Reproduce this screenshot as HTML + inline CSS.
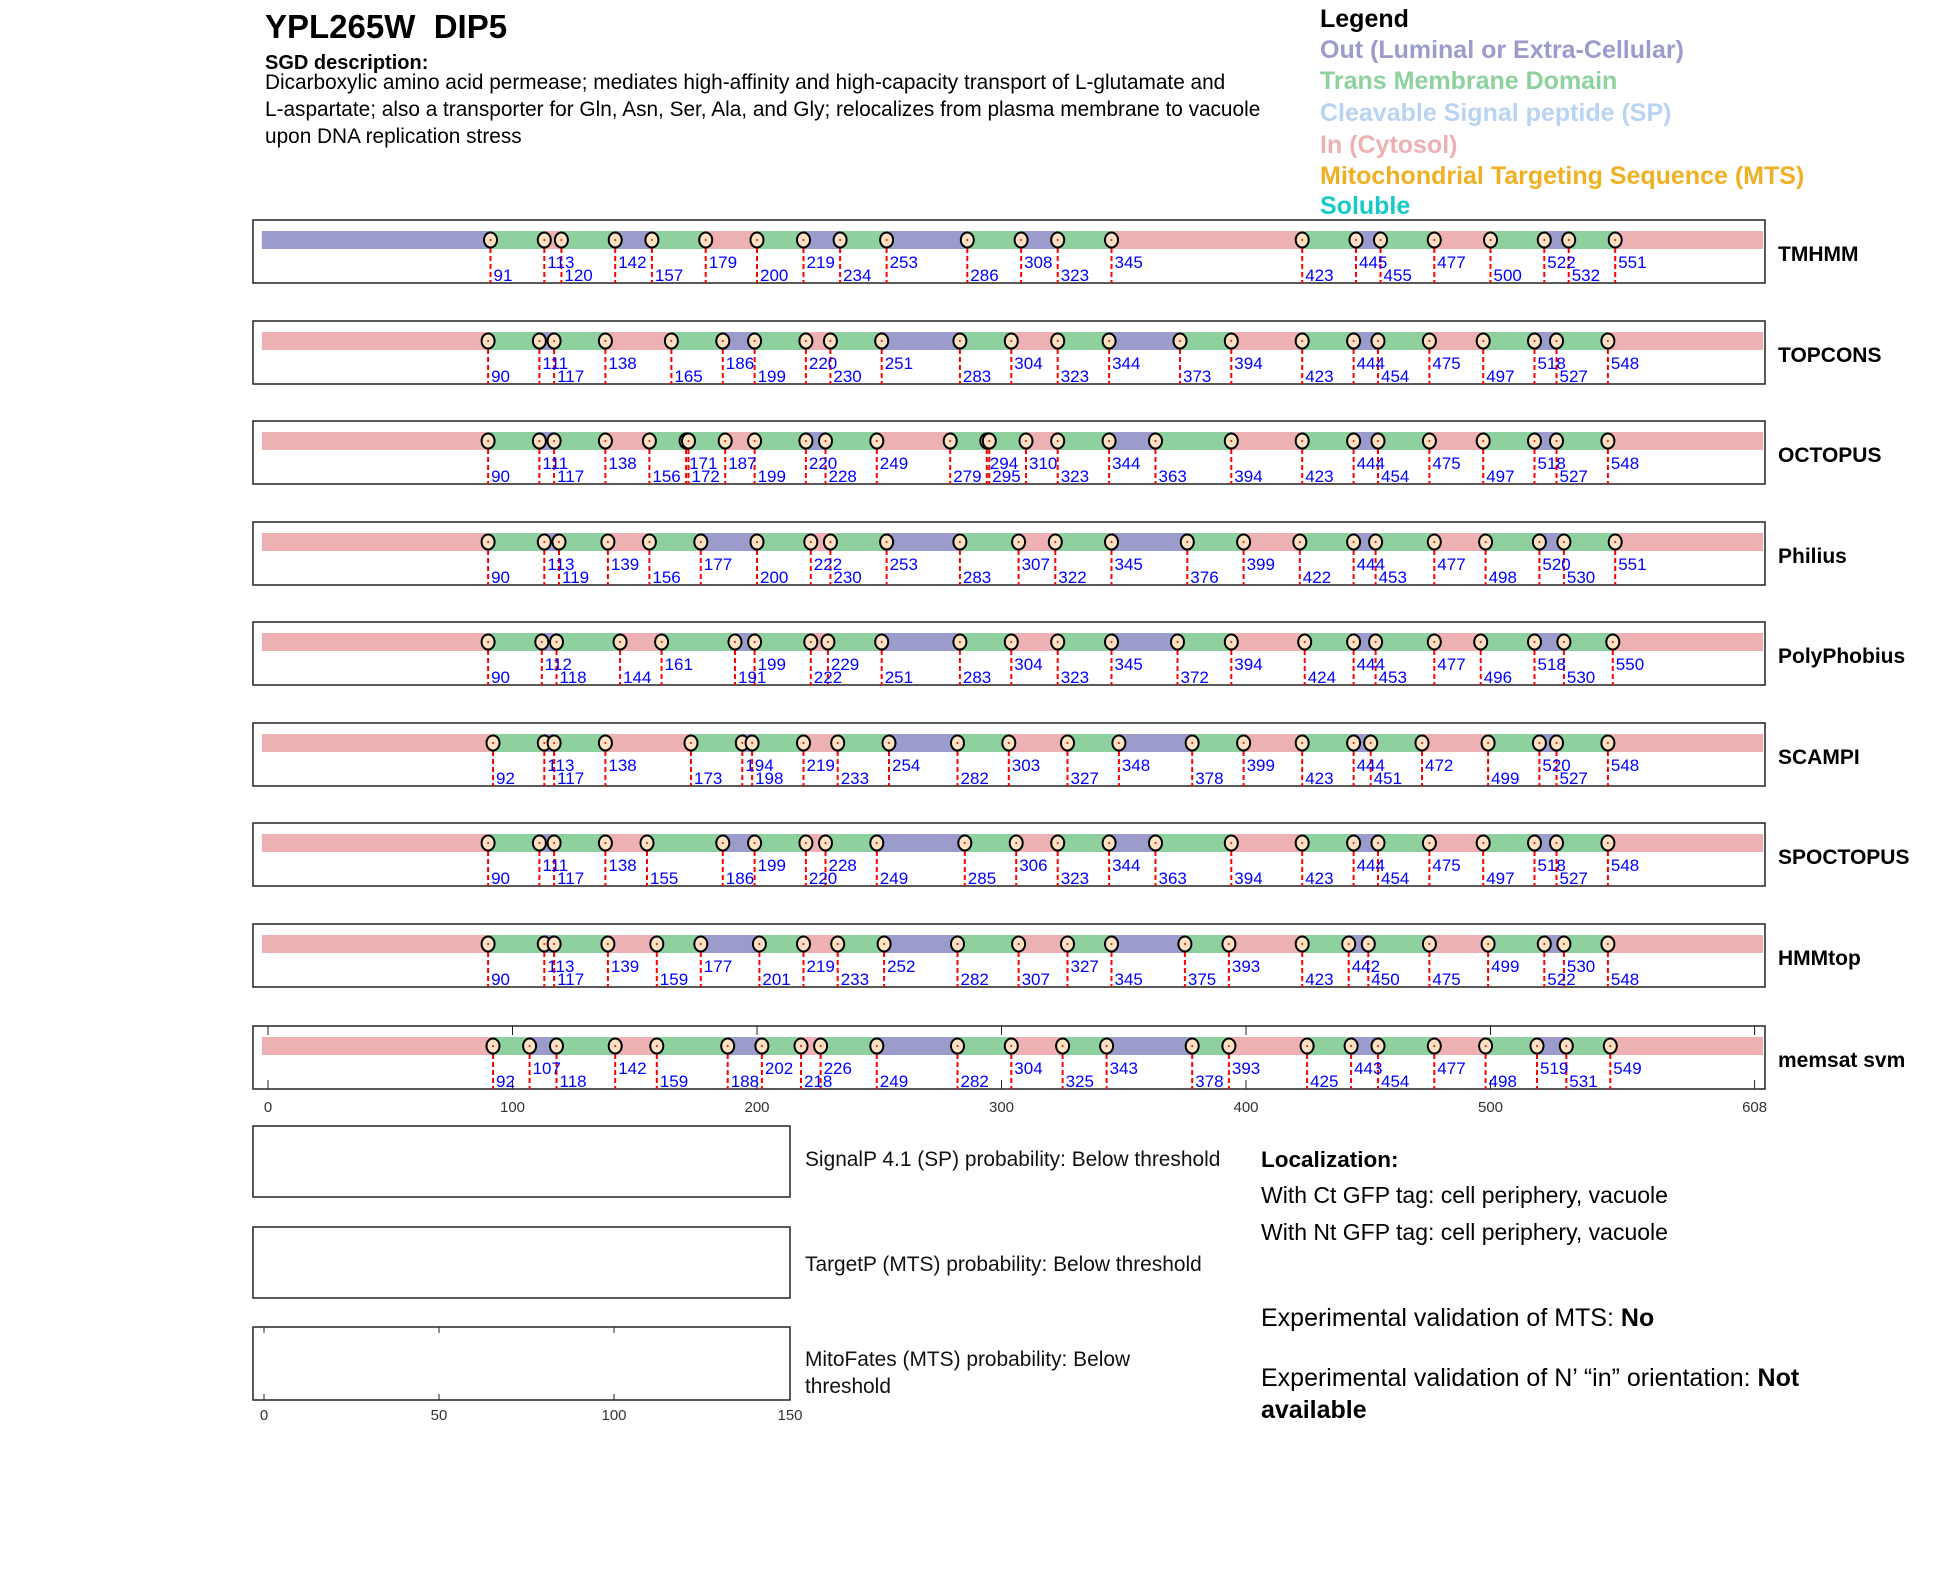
<!DOCTYPE html>
<html><head><meta charset="utf-8"><style>
html,body{margin:0;padding:0;background:#fff}
svg{display:block}
text{font-family:"Liberation Sans",Arial,sans-serif}
.n{font-size:17px;fill:#0000ff}
.r{font-size:21px;font-weight:bold;fill:#000}
.t{font-size:15px;fill:#333;text-anchor:middle}
</style></head><body>
<svg width="1950" height="1573" viewBox="0 0 1950 1573" xmlns="http://www.w3.org/2000/svg">
<defs>
<g id="m"><line x1="0" y1="20" x2="0" y2="63" stroke="#ff0000" stroke-width="2" stroke-dasharray="5,3"/><ellipse cx="0" cy="20" rx="6.5" ry="7.5" fill="#fde3c3" stroke="#000" stroke-width="2"/><circle cx="0" cy="20" r="1" fill="#ff0000"/></g>
</defs>
<text x="265" y="38" style="font-size:33px;font-weight:bold">YPL265W&#160;&#160;DIP5</text>
<text x="265" y="69" style="font-size:20px;font-weight:bold">SGD description:</text>
<text x="265" y="89" style="font-size:20.8px">Dicarboxylic amino acid permease; mediates high-affinity and high-capacity transport of L-glutamate and</text>
<text x="265" y="116" style="font-size:20.8px">L-aspartate; also a transporter for Gln, Asn, Ser, Ala, and Gly; relocalizes from plasma membrane to vacuole</text>
<text x="265" y="143" style="font-size:20.8px">upon DNA replication stress</text>
<g style="font-size:25px;font-weight:bold">
<text x="1320" y="27" fill="#000">Legend</text>
<text x="1320" y="58" fill="#9b9bcc">Out (Luminal or Extra-Cellular)</text>
<text x="1320" y="89" fill="#8dd19c">Trans Membrane Domain</text>
<text x="1320" y="121" fill="#b9d3f2">Cleavable Signal peptide (SP)</text>
<text x="1320" y="153" fill="#eeb1b3">In (Cytosol)</text>
<text x="1320" y="184" fill="#f0b023">Mitochondrial Targeting Sequence (MTS)</text>
<text x="1320" y="214" fill="#17c9c9">Soluble</text>
</g>

<!-- Row 0 TMHMM -->
<g transform="translate(0,220)">
<rect x="253" y="0" width="1512" height="63" fill="#fff" stroke="#222" stroke-width="1.5"/>
<g transform="translate(268,0) scale(2.445,1)">
<rect x="-2.5" y="11" width="614" height="18" fill="#eeb1b3"/>
<g fill="#9b9bcc"><rect x="-2.5" y="11" width="93.5" height="18"/><rect x="142" y="11" width="15" height="18"/><rect x="219" y="11" width="15" height="18"/><rect x="253" y="11" width="33" height="18"/><rect x="308" y="11" width="15" height="18"/><rect x="445" y="11" width="10" height="18"/><rect x="522" y="11" width="10" height="18"/></g>
<g fill="#8fd19e"><rect x="91" y="11" width="22" height="18"/><rect x="120" y="11" width="22" height="18"/><rect x="157" y="11" width="22" height="18"/><rect x="200" y="11" width="19" height="18"/><rect x="234" y="11" width="19" height="18"/><rect x="286" y="11" width="22" height="18"/><rect x="323" y="11" width="22" height="18"/><rect x="423" y="11" width="22" height="18"/><rect x="455" y="11" width="22" height="18"/><rect x="500" y="11" width="22" height="18"/><rect x="532" y="11" width="19" height="18"/></g>
</g>
<use href="#m" x="490.5"/><use href="#m" x="544.3"/><use href="#m" x="561.4"/><use href="#m" x="615.2"/><use href="#m" x="651.9"/><use href="#m" x="705.7"/><use href="#m" x="757"/><use href="#m" x="803.5"/><use href="#m" x="840.1"/><use href="#m" x="886.6"/><use href="#m" x="967.3"/><use href="#m" x="1021.1"/><use href="#m" x="1057.7"/><use href="#m" x="1111.5"/><use href="#m" x="1302.2"/><use href="#m" x="1356"/><use href="#m" x="1380.5"/><use href="#m" x="1434.3"/><use href="#m" x="1490.5"/><use href="#m" x="1544.3"/><use href="#m" x="1568.7"/><use href="#m" x="1615.2"/>
<text class="n" x="493.5" y="61">91</text><text class="n" x="547.3" y="48">113</text><text class="n" x="564.4" y="61">120</text><text class="n" x="618.2" y="48">142</text><text class="n" x="654.9" y="61">157</text><text class="n" x="708.7" y="48">179</text><text class="n" x="760" y="61">200</text><text class="n" x="806.5" y="48">219</text><text class="n" x="843.1" y="61">234</text><text class="n" x="889.6" y="48">253</text><text class="n" x="970.3" y="61">286</text><text class="n" x="1024.1" y="48">308</text><text class="n" x="1060.7" y="61">323</text><text class="n" x="1114.5" y="48">345</text><text class="n" x="1305.2" y="61">423</text><text class="n" x="1359" y="48">445</text><text class="n" x="1383.5" y="61">455</text><text class="n" x="1437.3" y="48">477</text><text class="n" x="1493.5" y="61">500</text><text class="n" x="1547.3" y="48">522</text><text class="n" x="1571.7" y="61">532</text><text class="n" x="1618.2" y="48">551</text>
<text class="r" x="1778" y="41">TMHMM</text>
</g>

<!-- Row 1 TOPCONS -->
<g transform="translate(0,321)">
<rect x="253" y="0" width="1512" height="63" fill="#fff" stroke="#222" stroke-width="1.5"/>
<g transform="translate(268,0) scale(2.445,1)">
<rect x="-2.5" y="11" width="614" height="18" fill="#eeb1b3"/>
<g fill="#9b9bcc"><rect x="111" y="11" width="6" height="18"/><rect x="186" y="11" width="13" height="18"/><rect x="251" y="11" width="32" height="18"/><rect x="344" y="11" width="29" height="18"/><rect x="444" y="11" width="10" height="18"/><rect x="518" y="11" width="9" height="18"/></g>
<g fill="#8fd19e"><rect x="90" y="11" width="21" height="18"/><rect x="117" y="11" width="21" height="18"/><rect x="165" y="11" width="21" height="18"/><rect x="199" y="11" width="21" height="18"/><rect x="230" y="11" width="21" height="18"/><rect x="283" y="11" width="21" height="18"/><rect x="323" y="11" width="21" height="18"/><rect x="373" y="11" width="21" height="18"/><rect x="423" y="11" width="21" height="18"/><rect x="454" y="11" width="21" height="18"/><rect x="497" y="11" width="21" height="18"/><rect x="527" y="11" width="21" height="18"/></g>
</g>
<use href="#m" x="488.1"/><use href="#m" x="539.4"/><use href="#m" x="554.1"/><use href="#m" x="605.4"/><use href="#m" x="671.4"/><use href="#m" x="722.8"/><use href="#m" x="754.6"/><use href="#m" x="805.9"/><use href="#m" x="830.4"/><use href="#m" x="881.7"/><use href="#m" x="959.9"/><use href="#m" x="1011.3"/><use href="#m" x="1057.7"/><use href="#m" x="1109.1"/><use href="#m" x="1180"/><use href="#m" x="1231.3"/><use href="#m" x="1302.2"/><use href="#m" x="1353.6"/><use href="#m" x="1378"/><use href="#m" x="1429.4"/><use href="#m" x="1483.2"/><use href="#m" x="1534.5"/><use href="#m" x="1556.5"/><use href="#m" x="1607.9"/>
<text class="n" x="491.1" y="61">90</text><text class="n" x="542.4" y="48">111</text><text class="n" x="557.1" y="61">117</text><text class="n" x="608.4" y="48">138</text><text class="n" x="674.4" y="61">165</text><text class="n" x="725.8" y="48">186</text><text class="n" x="757.6" y="61">199</text><text class="n" x="808.9" y="48">220</text><text class="n" x="833.4" y="61">230</text><text class="n" x="884.7" y="48">251</text><text class="n" x="962.9" y="61">283</text><text class="n" x="1014.3" y="48">304</text><text class="n" x="1060.7" y="61">323</text><text class="n" x="1112.1" y="48">344</text><text class="n" x="1183" y="61">373</text><text class="n" x="1234.3" y="48">394</text><text class="n" x="1305.2" y="61">423</text><text class="n" x="1356.6" y="48">444</text><text class="n" x="1381" y="61">454</text><text class="n" x="1432.4" y="48">475</text><text class="n" x="1486.2" y="61">497</text><text class="n" x="1537.5" y="48">518</text><text class="n" x="1559.5" y="61">527</text><text class="n" x="1610.9" y="48">548</text>
<text class="r" x="1778" y="41">TOPCONS</text>
</g>

<!-- Row 2 OCTOPUS -->
<g transform="translate(0,421)">
<rect x="253" y="0" width="1512" height="63" fill="#fff" stroke="#222" stroke-width="1.5"/>
<g transform="translate(268,0) scale(2.445,1)">
<rect x="-2.5" y="11" width="614" height="18" fill="#eeb1b3"/>
<g fill="#9b9bcc"><rect x="111" y="11" width="6" height="18"/><rect x="171" y="11" width="1" height="18"/><rect x="220" y="11" width="8" height="18"/><rect x="294" y="11" width="1" height="18"/><rect x="344" y="11" width="19" height="18"/><rect x="444" y="11" width="10" height="18"/><rect x="518" y="11" width="9" height="18"/></g>
<g fill="#8fd19e"><rect x="90" y="11" width="21" height="18"/><rect x="117" y="11" width="21" height="18"/><rect x="156" y="11" width="15" height="18"/><rect x="172" y="11" width="15" height="18"/><rect x="199" y="11" width="21" height="18"/><rect x="228" y="11" width="21" height="18"/><rect x="279" y="11" width="15" height="18"/><rect x="295" y="11" width="15" height="18"/><rect x="323" y="11" width="21" height="18"/><rect x="363" y="11" width="31" height="18"/><rect x="423" y="11" width="21" height="18"/><rect x="454" y="11" width="21" height="18"/><rect x="497" y="11" width="21" height="18"/><rect x="527" y="11" width="21" height="18"/></g>
</g>
<use href="#m" x="488.1"/><use href="#m" x="539.4"/><use href="#m" x="554.1"/><use href="#m" x="605.4"/><use href="#m" x="649.4"/><use href="#m" x="686.1"/><use href="#m" x="688.5"/><use href="#m" x="725.2"/><use href="#m" x="754.6"/><use href="#m" x="805.9"/><use href="#m" x="825.5"/><use href="#m" x="876.8"/><use href="#m" x="950.2"/><use href="#m" x="986.8"/><use href="#m" x="989.3"/><use href="#m" x="1026"/><use href="#m" x="1057.7"/><use href="#m" x="1109.1"/><use href="#m" x="1155.5"/><use href="#m" x="1231.3"/><use href="#m" x="1302.2"/><use href="#m" x="1353.6"/><use href="#m" x="1378"/><use href="#m" x="1429.4"/><use href="#m" x="1483.2"/><use href="#m" x="1534.5"/><use href="#m" x="1556.5"/><use href="#m" x="1607.9"/>
<text class="n" x="491.1" y="61">90</text><text class="n" x="542.4" y="48">111</text><text class="n" x="557.1" y="61">117</text><text class="n" x="608.4" y="48">138</text><text class="n" x="652.4" y="61">156</text><text class="n" x="689.1" y="48">171</text><text class="n" x="691.5" y="61">172</text><text class="n" x="728.2" y="48">187</text><text class="n" x="757.6" y="61">199</text><text class="n" x="808.9" y="48">220</text><text class="n" x="828.5" y="61">228</text><text class="n" x="879.8" y="48">249</text><text class="n" x="953.2" y="61">279</text><text class="n" x="989.8" y="48">294</text><text class="n" x="992.3" y="61">295</text><text class="n" x="1029" y="48">310</text><text class="n" x="1060.7" y="61">323</text><text class="n" x="1112.1" y="48">344</text><text class="n" x="1158.5" y="61">363</text><text class="n" x="1234.3" y="61">394</text><text class="n" x="1305.2" y="61">423</text><text class="n" x="1356.6" y="48">444</text><text class="n" x="1381" y="61">454</text><text class="n" x="1432.4" y="48">475</text><text class="n" x="1486.2" y="61">497</text><text class="n" x="1537.5" y="48">518</text><text class="n" x="1559.5" y="61">527</text><text class="n" x="1610.9" y="48">548</text>
<text class="r" x="1778" y="41">OCTOPUS</text>
</g>

<!-- Row 3 Philius -->
<g transform="translate(0,522)">
<rect x="253" y="0" width="1512" height="63" fill="#fff" stroke="#222" stroke-width="1.5"/>
<g transform="translate(268,0) scale(2.445,1)">
<rect x="-2.5" y="11" width="614" height="18" fill="#eeb1b3"/>
<g fill="#9b9bcc"><rect x="113" y="11" width="6" height="18"/><rect x="177" y="11" width="23" height="18"/><rect x="253" y="11" width="30" height="18"/><rect x="345" y="11" width="31" height="18"/><rect x="444" y="11" width="9" height="18"/><rect x="520" y="11" width="10" height="18"/></g>
<g fill="#8fd19e"><rect x="90" y="11" width="23" height="18"/><rect x="119" y="11" width="20" height="18"/><rect x="156" y="11" width="21" height="18"/><rect x="200" y="11" width="22" height="18"/><rect x="230" y="11" width="23" height="18"/><rect x="283" y="11" width="24" height="18"/><rect x="322" y="11" width="23" height="18"/><rect x="376" y="11" width="23" height="18"/><rect x="422" y="11" width="22" height="18"/><rect x="453" y="11" width="24" height="18"/><rect x="498" y="11" width="22" height="18"/><rect x="530" y="11" width="21" height="18"/></g>
</g>
<use href="#m" x="488.1"/><use href="#m" x="544.3"/><use href="#m" x="559"/><use href="#m" x="607.9"/><use href="#m" x="649.4"/><use href="#m" x="700.8"/><use href="#m" x="757"/><use href="#m" x="810.8"/><use href="#m" x="830.4"/><use href="#m" x="886.6"/><use href="#m" x="959.9"/><use href="#m" x="1018.6"/><use href="#m" x="1055.3"/><use href="#m" x="1111.5"/><use href="#m" x="1187.3"/><use href="#m" x="1243.6"/><use href="#m" x="1299.8"/><use href="#m" x="1353.6"/><use href="#m" x="1375.6"/><use href="#m" x="1434.3"/><use href="#m" x="1485.6"/><use href="#m" x="1539.4"/><use href="#m" x="1563.9"/><use href="#m" x="1615.2"/>
<text class="n" x="491.1" y="61">90</text><text class="n" x="547.3" y="48">113</text><text class="n" x="562" y="61">119</text><text class="n" x="610.9" y="48">139</text><text class="n" x="652.4" y="61">156</text><text class="n" x="703.8" y="48">177</text><text class="n" x="760" y="61">200</text><text class="n" x="813.8" y="48">222</text><text class="n" x="833.4" y="61">230</text><text class="n" x="889.6" y="48">253</text><text class="n" x="962.9" y="61">283</text><text class="n" x="1021.6" y="48">307</text><text class="n" x="1058.3" y="61">322</text><text class="n" x="1114.5" y="48">345</text><text class="n" x="1190.3" y="61">376</text><text class="n" x="1246.6" y="48">399</text><text class="n" x="1302.8" y="61">422</text><text class="n" x="1356.6" y="48">444</text><text class="n" x="1378.6" y="61">453</text><text class="n" x="1437.3" y="48">477</text><text class="n" x="1488.6" y="61">498</text><text class="n" x="1542.4" y="48">520</text><text class="n" x="1566.9" y="61">530</text><text class="n" x="1618.2" y="48">551</text>
<text class="r" x="1778" y="41">Philius</text>
</g>

<!-- Row 4 PolyPhobius -->
<g transform="translate(0,622)">
<rect x="253" y="0" width="1512" height="63" fill="#fff" stroke="#222" stroke-width="1.5"/>
<g transform="translate(268,0) scale(2.445,1)">
<rect x="-2.5" y="11" width="614" height="18" fill="#eeb1b3"/>
<g fill="#9b9bcc"><rect x="112" y="11" width="6" height="18"/><rect x="191" y="11" width="8" height="18"/><rect x="251" y="11" width="32" height="18"/><rect x="345" y="11" width="27" height="18"/><rect x="444" y="11" width="9" height="18"/><rect x="518" y="11" width="12" height="18"/></g>
<g fill="#8fd19e"><rect x="90" y="11" width="22" height="18"/><rect x="118" y="11" width="26" height="18"/><rect x="161" y="11" width="30" height="18"/><rect x="199" y="11" width="23" height="18"/><rect x="229" y="11" width="22" height="18"/><rect x="283" y="11" width="21" height="18"/><rect x="323" y="11" width="22" height="18"/><rect x="372" y="11" width="22" height="18"/><rect x="424" y="11" width="20" height="18"/><rect x="453" y="11" width="24" height="18"/><rect x="496" y="11" width="22" height="18"/><rect x="530" y="11" width="20" height="18"/></g>
</g>
<use href="#m" x="488.1"/><use href="#m" x="541.8"/><use href="#m" x="556.5"/><use href="#m" x="620.1"/><use href="#m" x="661.6"/><use href="#m" x="735"/><use href="#m" x="754.6"/><use href="#m" x="810.8"/><use href="#m" x="827.9"/><use href="#m" x="881.7"/><use href="#m" x="959.9"/><use href="#m" x="1011.3"/><use href="#m" x="1057.7"/><use href="#m" x="1111.5"/><use href="#m" x="1177.5"/><use href="#m" x="1231.3"/><use href="#m" x="1304.7"/><use href="#m" x="1353.6"/><use href="#m" x="1375.6"/><use href="#m" x="1434.3"/><use href="#m" x="1480.7"/><use href="#m" x="1534.5"/><use href="#m" x="1563.9"/><use href="#m" x="1612.8"/>
<text class="n" x="491.1" y="61">90</text><text class="n" x="544.8" y="48">112</text><text class="n" x="559.5" y="61">118</text><text class="n" x="623.1" y="61">144</text><text class="n" x="664.6" y="48">161</text><text class="n" x="738" y="61">191</text><text class="n" x="757.6" y="48">199</text><text class="n" x="813.8" y="61">222</text><text class="n" x="830.9" y="48">229</text><text class="n" x="884.7" y="61">251</text><text class="n" x="962.9" y="61">283</text><text class="n" x="1014.3" y="48">304</text><text class="n" x="1060.7" y="61">323</text><text class="n" x="1114.5" y="48">345</text><text class="n" x="1180.5" y="61">372</text><text class="n" x="1234.3" y="48">394</text><text class="n" x="1307.7" y="61">424</text><text class="n" x="1356.6" y="48">444</text><text class="n" x="1378.6" y="61">453</text><text class="n" x="1437.3" y="48">477</text><text class="n" x="1483.7" y="61">496</text><text class="n" x="1537.5" y="48">518</text><text class="n" x="1566.9" y="61">530</text><text class="n" x="1615.8" y="48">550</text>
<text class="r" x="1778" y="41">PolyPhobius</text>
</g>

<!-- Row 5 SCAMPI -->
<g transform="translate(0,723)">
<rect x="253" y="0" width="1512" height="63" fill="#fff" stroke="#222" stroke-width="1.5"/>
<g transform="translate(268,0) scale(2.445,1)">
<rect x="-2.5" y="11" width="614" height="18" fill="#eeb1b3"/>
<g fill="#9b9bcc"><rect x="113" y="11" width="4" height="18"/><rect x="194" y="11" width="4" height="18"/><rect x="254" y="11" width="28" height="18"/><rect x="348" y="11" width="30" height="18"/><rect x="444" y="11" width="7" height="18"/><rect x="520" y="11" width="7" height="18"/></g>
<g fill="#8fd19e"><rect x="92" y="11" width="21" height="18"/><rect x="117" y="11" width="21" height="18"/><rect x="173" y="11" width="21" height="18"/><rect x="198" y="11" width="21" height="18"/><rect x="233" y="11" width="21" height="18"/><rect x="282" y="11" width="21" height="18"/><rect x="327" y="11" width="21" height="18"/><rect x="378" y="11" width="21" height="18"/><rect x="423" y="11" width="21" height="18"/><rect x="451" y="11" width="21" height="18"/><rect x="499" y="11" width="21" height="18"/><rect x="527" y="11" width="21" height="18"/></g>
</g>
<use href="#m" x="493"/><use href="#m" x="544.3"/><use href="#m" x="554.1"/><use href="#m" x="605.4"/><use href="#m" x="691"/><use href="#m" x="742.3"/><use href="#m" x="752.1"/><use href="#m" x="803.5"/><use href="#m" x="837.7"/><use href="#m" x="889"/><use href="#m" x="957.5"/><use href="#m" x="1008.8"/><use href="#m" x="1067.5"/><use href="#m" x="1118.9"/><use href="#m" x="1192.2"/><use href="#m" x="1243.6"/><use href="#m" x="1302.2"/><use href="#m" x="1353.6"/><use href="#m" x="1370.7"/><use href="#m" x="1422"/><use href="#m" x="1488.1"/><use href="#m" x="1539.4"/><use href="#m" x="1556.5"/><use href="#m" x="1607.9"/>
<text class="n" x="496" y="61">92</text><text class="n" x="547.3" y="48">113</text><text class="n" x="557.1" y="61">117</text><text class="n" x="608.4" y="48">138</text><text class="n" x="694" y="61">173</text><text class="n" x="745.3" y="48">194</text><text class="n" x="755.1" y="61">198</text><text class="n" x="806.5" y="48">219</text><text class="n" x="840.7" y="61">233</text><text class="n" x="892" y="48">254</text><text class="n" x="960.5" y="61">282</text><text class="n" x="1011.8" y="48">303</text><text class="n" x="1070.5" y="61">327</text><text class="n" x="1121.9" y="48">348</text><text class="n" x="1195.2" y="61">378</text><text class="n" x="1246.6" y="48">399</text><text class="n" x="1305.2" y="61">423</text><text class="n" x="1356.6" y="48">444</text><text class="n" x="1373.7" y="61">451</text><text class="n" x="1425" y="48">472</text><text class="n" x="1491.1" y="61">499</text><text class="n" x="1542.4" y="48">520</text><text class="n" x="1559.5" y="61">527</text><text class="n" x="1610.9" y="48">548</text>
<text class="r" x="1778" y="41">SCAMPI</text>
</g>

<!-- Row 6 SPOCTOPUS -->
<g transform="translate(0,823)">
<rect x="253" y="0" width="1512" height="63" fill="#fff" stroke="#222" stroke-width="1.5"/>
<g transform="translate(268,0) scale(2.445,1)">
<rect x="-2.5" y="11" width="614" height="18" fill="#eeb1b3"/>
<g fill="#9b9bcc"><rect x="111" y="11" width="6" height="18"/><rect x="186" y="11" width="13" height="18"/><rect x="249" y="11" width="36" height="18"/><rect x="344" y="11" width="19" height="18"/><rect x="444" y="11" width="10" height="18"/><rect x="518" y="11" width="9" height="18"/></g>
<g fill="#8fd19e"><rect x="90" y="11" width="21" height="18"/><rect x="117" y="11" width="21" height="18"/><rect x="155" y="11" width="31" height="18"/><rect x="199" y="11" width="21" height="18"/><rect x="228" y="11" width="21" height="18"/><rect x="285" y="11" width="21" height="18"/><rect x="323" y="11" width="21" height="18"/><rect x="363" y="11" width="31" height="18"/><rect x="423" y="11" width="21" height="18"/><rect x="454" y="11" width="21" height="18"/><rect x="497" y="11" width="21" height="18"/><rect x="527" y="11" width="21" height="18"/></g>
</g>
<use href="#m" x="488.1"/><use href="#m" x="539.4"/><use href="#m" x="554.1"/><use href="#m" x="605.4"/><use href="#m" x="647"/><use href="#m" x="722.8"/><use href="#m" x="754.6"/><use href="#m" x="805.9"/><use href="#m" x="825.5"/><use href="#m" x="876.8"/><use href="#m" x="964.8"/><use href="#m" x="1016.2"/><use href="#m" x="1057.7"/><use href="#m" x="1109.1"/><use href="#m" x="1155.5"/><use href="#m" x="1231.3"/><use href="#m" x="1302.2"/><use href="#m" x="1353.6"/><use href="#m" x="1378"/><use href="#m" x="1429.4"/><use href="#m" x="1483.2"/><use href="#m" x="1534.5"/><use href="#m" x="1556.5"/><use href="#m" x="1607.9"/>
<text class="n" x="491.1" y="61">90</text><text class="n" x="542.4" y="48">111</text><text class="n" x="557.1" y="61">117</text><text class="n" x="608.4" y="48">138</text><text class="n" x="650" y="61">155</text><text class="n" x="725.8" y="61">186</text><text class="n" x="757.6" y="48">199</text><text class="n" x="808.9" y="61">220</text><text class="n" x="828.5" y="48">228</text><text class="n" x="879.8" y="61">249</text><text class="n" x="967.8" y="61">285</text><text class="n" x="1019.2" y="48">306</text><text class="n" x="1060.7" y="61">323</text><text class="n" x="1112.1" y="48">344</text><text class="n" x="1158.5" y="61">363</text><text class="n" x="1234.3" y="61">394</text><text class="n" x="1305.2" y="61">423</text><text class="n" x="1356.6" y="48">444</text><text class="n" x="1381" y="61">454</text><text class="n" x="1432.4" y="48">475</text><text class="n" x="1486.2" y="61">497</text><text class="n" x="1537.5" y="48">518</text><text class="n" x="1559.5" y="61">527</text><text class="n" x="1610.9" y="48">548</text>
<text class="r" x="1778" y="41">SPOCTOPUS</text>
</g>

<!-- Row 7 HMMtop -->
<g transform="translate(0,924)">
<rect x="253" y="0" width="1512" height="63" fill="#fff" stroke="#222" stroke-width="1.5"/>
<g transform="translate(268,0) scale(2.445,1)">
<rect x="-2.5" y="11" width="614" height="18" fill="#eeb1b3"/>
<g fill="#9b9bcc"><rect x="113" y="11" width="4" height="18"/><rect x="177" y="11" width="24" height="18"/><rect x="252" y="11" width="30" height="18"/><rect x="345" y="11" width="30" height="18"/><rect x="442" y="11" width="8" height="18"/><rect x="522" y="11" width="8" height="18"/></g>
<g fill="#8fd19e"><rect x="90" y="11" width="23" height="18"/><rect x="117" y="11" width="22" height="18"/><rect x="159" y="11" width="18" height="18"/><rect x="201" y="11" width="18" height="18"/><rect x="233" y="11" width="19" height="18"/><rect x="282" y="11" width="25" height="18"/><rect x="327" y="11" width="18" height="18"/><rect x="375" y="11" width="18" height="18"/><rect x="423" y="11" width="19" height="18"/><rect x="450" y="11" width="25" height="18"/><rect x="499" y="11" width="23" height="18"/><rect x="530" y="11" width="18" height="18"/></g>
</g>
<use href="#m" x="488.1"/><use href="#m" x="544.3"/><use href="#m" x="554.1"/><use href="#m" x="607.9"/><use href="#m" x="656.8"/><use href="#m" x="700.8"/><use href="#m" x="759.4"/><use href="#m" x="803.5"/><use href="#m" x="837.7"/><use href="#m" x="884.1"/><use href="#m" x="957.5"/><use href="#m" x="1018.6"/><use href="#m" x="1067.5"/><use href="#m" x="1111.5"/><use href="#m" x="1184.9"/><use href="#m" x="1228.9"/><use href="#m" x="1302.2"/><use href="#m" x="1348.7"/><use href="#m" x="1368.3"/><use href="#m" x="1429.4"/><use href="#m" x="1488.1"/><use href="#m" x="1544.3"/><use href="#m" x="1563.9"/><use href="#m" x="1607.9"/>
<text class="n" x="491.1" y="61">90</text><text class="n" x="547.3" y="48">113</text><text class="n" x="557.1" y="61">117</text><text class="n" x="610.9" y="48">139</text><text class="n" x="659.8" y="61">159</text><text class="n" x="703.8" y="48">177</text><text class="n" x="762.4" y="61">201</text><text class="n" x="806.5" y="48">219</text><text class="n" x="840.7" y="61">233</text><text class="n" x="887.1" y="48">252</text><text class="n" x="960.5" y="61">282</text><text class="n" x="1021.6" y="61">307</text><text class="n" x="1070.5" y="48">327</text><text class="n" x="1114.5" y="61">345</text><text class="n" x="1187.9" y="61">375</text><text class="n" x="1231.9" y="48">393</text><text class="n" x="1305.2" y="61">423</text><text class="n" x="1351.7" y="48">442</text><text class="n" x="1371.3" y="61">450</text><text class="n" x="1432.4" y="61">475</text><text class="n" x="1491.1" y="48">499</text><text class="n" x="1547.3" y="61">522</text><text class="n" x="1566.9" y="48">530</text><text class="n" x="1610.9" y="61">548</text>
<text class="r" x="1778" y="41">HMMtop</text>
</g>

<!-- Row 8 memsat svm -->
<g transform="translate(0,1026)">
<rect x="253" y="0" width="1512" height="63" fill="#fff" stroke="#222" stroke-width="1.5"/>
<g stroke="#222" stroke-width="1">
<line x1="268" y1="0" x2="268" y2="9"/><line x1="512.5" y1="0" x2="512.5" y2="9"/><line x1="757" y1="0" x2="757" y2="9"/><line x1="1001.5" y1="0" x2="1001.5" y2="9"/><line x1="1246" y1="0" x2="1246" y2="9"/><line x1="1490.5" y1="0" x2="1490.5" y2="9"/><line x1="1754.6" y1="0" x2="1754.6" y2="9"/>
<line x1="268" y1="54" x2="268" y2="63"/><line x1="512.5" y1="54" x2="512.5" y2="63"/><line x1="757" y1="54" x2="757" y2="63"/><line x1="1001.5" y1="54" x2="1001.5" y2="63"/><line x1="1246" y1="54" x2="1246" y2="63"/><line x1="1490.5" y1="54" x2="1490.5" y2="63"/><line x1="1754.6" y1="54" x2="1754.6" y2="63"/>
</g>
<g transform="translate(268,0) scale(2.445,1)">
<rect x="-2.5" y="11" width="614" height="18" fill="#eeb1b3"/>
<g fill="#9b9bcc"><rect x="107" y="11" width="11" height="18"/><rect x="188" y="11" width="14" height="18"/><rect x="249" y="11" width="33" height="18"/><rect x="343" y="11" width="35" height="18"/><rect x="443" y="11" width="11" height="18"/><rect x="519" y="11" width="12" height="18"/></g>
<g fill="#8fd19e"><rect x="92" y="11" width="15" height="18"/><rect x="118" y="11" width="24" height="18"/><rect x="159" y="11" width="29" height="18"/><rect x="202" y="11" width="16" height="18"/><rect x="226" y="11" width="23" height="18"/><rect x="282" y="11" width="22" height="18"/><rect x="325" y="11" width="18" height="18"/><rect x="378" y="11" width="15" height="18"/><rect x="425" y="11" width="18" height="18"/><rect x="454" y="11" width="23" height="18"/><rect x="498" y="11" width="21" height="18"/><rect x="531" y="11" width="18" height="18"/></g>
</g>
<use href="#m" x="493"/><use href="#m" x="529.6"/><use href="#m" x="556.5"/><use href="#m" x="615.2"/><use href="#m" x="656.8"/><use href="#m" x="727.7"/><use href="#m" x="761.9"/><use href="#m" x="801"/><use href="#m" x="820.6"/><use href="#m" x="876.8"/><use href="#m" x="957.5"/><use href="#m" x="1011.3"/><use href="#m" x="1062.6"/><use href="#m" x="1106.6"/><use href="#m" x="1192.2"/><use href="#m" x="1228.9"/><use href="#m" x="1307.1"/><use href="#m" x="1351.1"/><use href="#m" x="1378"/><use href="#m" x="1434.3"/><use href="#m" x="1485.6"/><use href="#m" x="1537"/><use href="#m" x="1566.3"/><use href="#m" x="1610.3"/>
<text class="n" x="496" y="61">92</text><text class="n" x="532.6" y="48">107</text><text class="n" x="559.5" y="61">118</text><text class="n" x="618.2" y="48">142</text><text class="n" x="659.8" y="61">159</text><text class="n" x="730.7" y="61">188</text><text class="n" x="764.9" y="48">202</text><text class="n" x="804" y="61">218</text><text class="n" x="823.6" y="48">226</text><text class="n" x="879.8" y="61">249</text><text class="n" x="960.5" y="61">282</text><text class="n" x="1014.3" y="48">304</text><text class="n" x="1065.6" y="61">325</text><text class="n" x="1109.6" y="48">343</text><text class="n" x="1195.2" y="61">378</text><text class="n" x="1231.9" y="48">393</text><text class="n" x="1310.1" y="61">425</text><text class="n" x="1354.1" y="48">443</text><text class="n" x="1381" y="61">454</text><text class="n" x="1437.3" y="48">477</text><text class="n" x="1488.6" y="61">498</text><text class="n" x="1540" y="48">519</text><text class="n" x="1569.3" y="61">531</text><text class="n" x="1613.3" y="48">549</text>
<text class="r" x="1778" y="41">memsat svm</text>
<text class="t" x="268" y="86">0</text><text class="t" x="512.5" y="86">100</text><text class="t" x="757" y="86">200</text><text class="t" x="1001.5" y="86">300</text><text class="t" x="1246" y="86">400</text><text class="t" x="1490.5" y="86">500</text><text class="t" x="1754.6" y="86">608</text>
</g>

<!-- bottom panels -->
<rect x="253" y="1126" width="537" height="71" fill="#fff" stroke="#222" stroke-width="1.5"/>
<rect x="253" y="1227" width="537" height="71" fill="#fff" stroke="#222" stroke-width="1.5"/>
<rect x="253" y="1327" width="537" height="73" fill="#fff" stroke="#222" stroke-width="1.5"/>
<g stroke="#222" stroke-width="1">
<line x1="264" y1="1327" x2="264" y2="1333"/><line x1="439" y1="1327" x2="439" y2="1333"/><line x1="614" y1="1327" x2="614" y2="1333"/>
<line x1="264" y1="1394" x2="264" y2="1400"/><line x1="439" y1="1394" x2="439" y2="1400"/><line x1="614" y1="1394" x2="614" y2="1400"/>
</g>
<text class="t" x="264" y="1420">0</text><text class="t" x="439" y="1420">50</text><text class="t" x="614" y="1420">100</text><text class="t" x="790" y="1420">150</text>
<g style="font-size:20.9px" fill="#111">
<text x="805" y="1166">SignalP 4.1 (SP) probability: Below threshold</text>
<text x="805" y="1271">TargetP (MTS) probability: Below threshold</text>
<text x="805" y="1366">MitoFates (MTS) probability: Below</text>
<text x="805" y="1393">threshold</text>
</g>
<g fill="#000">
<text x="1261" y="1167" style="font-size:22.5px;font-weight:bold">Localization:</text>
<text x="1261" y="1203" style="font-size:23px">With Ct GFP tag: cell periphery, vacuole</text>
<text x="1261" y="1240" style="font-size:23px">With Nt GFP tag: cell periphery, vacuole</text>
<text x="1261" y="1326" style="font-size:25px">Experimental validation of MTS: <tspan font-weight="bold">No</tspan></text>
<text x="1261" y="1386" style="font-size:25px">Experimental validation of N’ “in” orientation: <tspan font-weight="bold">Not</tspan></text>
<text x="1261" y="1418" style="font-size:25px;font-weight:bold">available</text>
</g>
</svg>
</body></html>
